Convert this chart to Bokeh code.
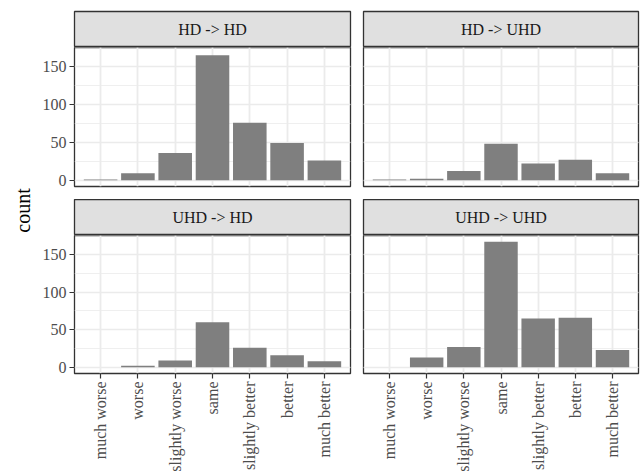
import math
from bokeh.plotting import figure
from bokeh.models import (FactorRange, Range1d, SingleIntervalTicker, Label,
                          ColumnDataSource)
from bokeh.layouts import row, column
from bokeh.embed import file_html
from bokeh.resources import INLINE

# ---- data ----
categories = ["much worse", "worse", "slightly worse", "same",
              "slightly better", "better", "much better"]
facets = ["HD -> HD", "HD -> UHD", "UHD -> HD", "UHD -> UHD"]
hd_hd = [1, 9, 36, 165, 76, 49, 26]
hd_uhd = [1, 2, 12, 48, 22, 27, 9]
uhd_hd = [0, 2, 9, 60, 26, 16, 8]
uhd_uhd = [0, 13, 27, 167, 65, 66, 23]
y_tick_step = 50

series = [hd_hd, hd_uhd, uhd_hd, uhd_uhd]

# ---- style ----
FONT = "Liberation Serif"
BAR = "#7F7F7F"
GRID = "#EBEBEB"
BORDER = "#333333"
STRIP_FILL = "#E0E0E0"

all_vals = hd_hd + hd_uhd + uhd_hd + uhd_uhd
lo = min(0, min(all_vals))
hi = max(all_vals)
span = hi - lo
y_lo, y_hi = lo - 0.05 * span, hi + 0.05 * span

COUNT_W = 32
LEFT_AXIS = 42
GAP = 12
LEFT_W = 276
RIGHT_W = 275
TOP_PAD = 11
STRIP_H = 36
PANEL_H_TOP = 139
PANEL_H_BOT = 138
ROW_GAP = 13


def borders(is_left):
    if is_left:
        return dict(min_border_left=LEFT_AXIS, min_border_right=GAP)
    return dict(min_border_left=1, min_border_right=2)


def make_strip(label, is_left, top_pad):
    p = figure(frame_width=LEFT_W if is_left else RIGHT_W, frame_height=STRIP_H,
               x_range=Range1d(0, 1), y_range=Range1d(0, 1),
               x_axis_location=None, y_axis_location=None,
               toolbar_location=None, output_backend="svg",
               min_border_top=top_pad, min_border_bottom=0, **borders(is_left))
    p.grid.visible = False
    p.background_fill_color = STRIP_FILL
    p.border_fill_color = "white"
    p.outline_line_color = BORDER
    p.outline_line_width = 1.3
    p.add_layout(Label(x=0.5, y=0.5, text=label, text_align="center",
                       text_baseline="middle", text_font=FONT,
                       text_font_size="16px", text_color="#1A1A1A"))
    return p


def make_panel(vals, is_left, is_bottom):
    src = ColumnDataSource(dict(cat=categories, count=vals))
    p = figure(x_range=FactorRange(*categories, range_padding=0.2,
                                   range_padding_units="absolute"),
               y_range=Range1d(y_lo, y_hi),
               frame_width=LEFT_W if is_left else RIGHT_W,
               frame_height=PANEL_H_BOT if is_bottom else PANEL_H_TOP,
               x_axis_location="below" if is_bottom else None,
               y_axis_location="left" if is_left else None,
               toolbar_location=None, output_backend="svg",
               min_border_top=0,
               min_border_bottom=0 if is_bottom else ROW_GAP,
               **borders(is_left))
    p.vbar(x="cat", top="count", bottom=0, width=0.9, source=src,
           fill_color=BAR, line_color=None)
    ticker = SingleIntervalTicker(interval=y_tick_step, num_minor_ticks=2)
    p.ygrid.ticker = ticker
    p.ygrid.grid_line_color = GRID
    p.ygrid.grid_line_width = 1.6
    p.ygrid.minor_grid_line_color = GRID
    p.ygrid.minor_grid_line_width = 0.8
    p.xgrid.grid_line_color = GRID
    p.xgrid.grid_line_width = 1.8
    p.background_fill_color = "white"
    p.border_fill_color = "white"
    p.outline_line_color = BORDER
    p.outline_line_width = 1.3
    if is_left:
        ax = p.yaxis[0]
        ax.ticker = ticker
        ax.axis_line_color = None
        ax.major_tick_in = 0
        ax.major_tick_out = 5
        ax.major_tick_line_color = BORDER
        ax.major_tick_line_width = 1.2
        ax.minor_tick_line_color = None
        ax.major_label_standoff = 3
        ax.major_label_text_font = FONT
        ax.major_label_text_font_size = "16px"
        ax.major_label_text_color = "#4D4D4D"
    if is_bottom:
        ax = p.xaxis[0]
        ax.axis_line_color = None
        ax.major_tick_in = 0
        ax.major_tick_out = 5
        ax.major_tick_line_color = BORDER
        ax.major_tick_line_width = 1.2
        ax.minor_tick_line_color = None
        ax.major_label_standoff = 3
        ax.major_label_orientation = math.pi / 2
        ax.major_label_text_font = FONT
        ax.major_label_text_font_size = "16px"
        ax.major_label_text_color = "#4D4D4D"
    return p


s1 = make_strip(facets[0], True, TOP_PAD)
s2 = make_strip(facets[1], False, TOP_PAD)
p1 = make_panel(series[0], True, False)
p2 = make_panel(series[1], False, False)
s3 = make_strip(facets[2], True, 0)
s4 = make_strip(facets[3], False, 0)
p3 = make_panel(series[2], True, True)
p4 = make_panel(series[3], False, True)

# y-axis title figure
CH = 300
pc = figure(width=COUNT_W, height=CH, x_range=Range1d(0, 1), y_range=Range1d(0, 1),
            x_axis_location=None, y_axis_location=None,
            toolbar_location=None, output_backend="svg",
            min_border_left=0, min_border_right=0, min_border_top=0,
            min_border_bottom=0)
pc.grid.visible = False
pc.outline_line_color = None
pc.background_fill_color = "white"
pc.border_fill_color = "white"
pc.add_layout(Label(x=22, y=CH - 210, x_units="screen", y_units="screen",
                    text="count", angle=math.pi / 2, text_align="center",
                    text_baseline="middle", text_font=FONT,
                    text_font_size="20px", text_color="black"))

grid = column(row(s1, s2), row(p1, p2), row(s3, s4), row(p3, p4))
layout = row(pc, grid)

open("out.html", "w").write(file_html(layout, INLINE))
